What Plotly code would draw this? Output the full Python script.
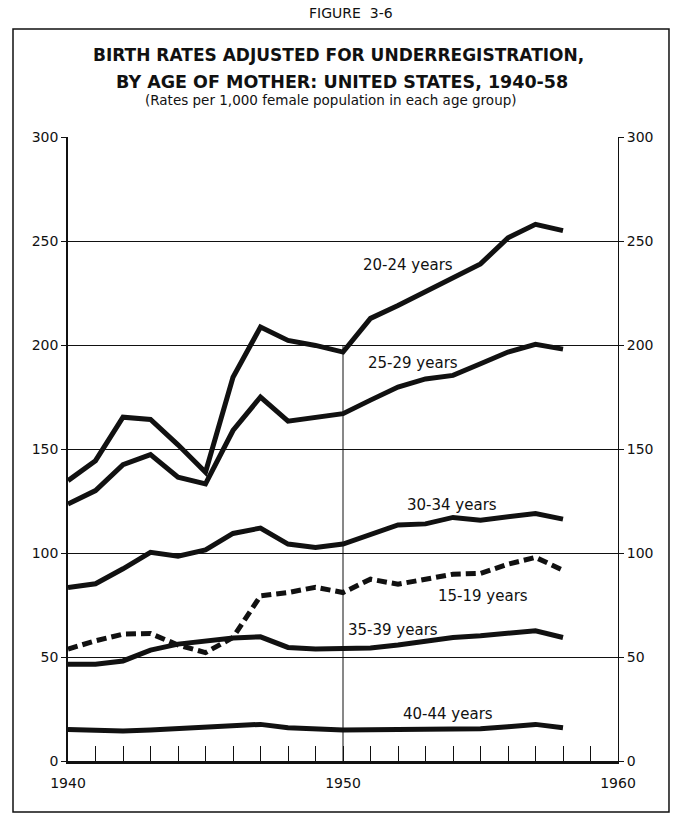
import plotly.graph_objects as go

years = list(range(1940, 1959))
rate_15_19 = [53.8, 57.8, 61.0, 61.3, 55.8, 52.1, 59.4, 79.4, 81.0, 83.5, 81.0, 87.4, 85.0, 87.4, 89.8, 90.2, 94.6, 97.9, 91.7]
rate_20_24 = [134.8, 144.4, 165.3, 164.2, 152.0, 138.8, 184.5, 208.6, 202.2, 199.8, 196.6, 212.8, 219.0, 225.5, 232.5, 239.0, 251.5, 258.0, 255.0]
rate_25_29 = [123.6, 130.0, 142.5, 147.3, 136.4, 133.2, 158.9, 175.0, 163.4, 165.0, 167.0, 173.5, 179.8, 183.7, 185.4, 191.0, 196.6, 200.3, 198.0]
rate_30_34 = [83.4, 85.2, 92.4, 100.3, 98.5, 101.5, 109.4, 112.0, 104.3, 102.7, 104.3, 109.1, 113.5, 114.0, 117.1, 115.8, 117.5, 119.0, 116.3]
rate_35_39 = [46.5, 46.5, 48.1, 53.3, 56.2, 57.8, 59.1, 59.7, 54.6, 53.8, 53.8, 54.3, 55.8, 57.8, 59.4, 60.2, 61.5, 62.6, 59.4]
rate_40_44 = [15.2, 14.9, 14.4, 14.9, 15.7, 16.4, 16.9, 17.6, 16.0, 15.2, 14.9, 15.0, 15.0, 15.2, 15.5, 15.5, 16.5, 17.6, 16.0]

series_names = ["15-19 years", "20-24 years", "25-29 years", "30-34 years", "35-39 years", "40-44 years"]
series_values = [rate_15_19, rate_20_24, rate_25_29, rate_30_34, rate_35_39, rate_40_44]
series_dash = ["10px,5px", "solid", "solid", "solid", "solid", "solid"]
label_x = [1955.1, 1952.35, 1952.55, 1953.95, 1951.8, 1953.8]
label_y = [79.4, 238.3, 191.5, 123.3, 63.1, 22.6]

y_ticks = [0, 50, 100, 150, 200, 250, 300]
x_ticks = [1940, 1950, 1960]

FONT = "DejaVu Sans"
INK = "#111111"

fig = go.Figure()
for name, vals, dash in zip(series_names, series_values, series_dash):
    fig.add_trace(go.Scatter(x=years, y=vals, mode="lines", name=name,
                             line=dict(color=INK, width=5, dash=dash),
                             showlegend=False))
# invisible trace on the right axis so it is drawn
fig.add_trace(go.Scatter(x=[1940], y=[0], yaxis="y2", mode="markers",
                         marker=dict(opacity=0), showlegend=False, hoverinfo="skip"))

for name, lx, ly in zip(series_names, label_x, label_y):
    fig.add_annotation(x=lx, y=ly, text=name, showarrow=False,
                       font=dict(family=FONT, size=15, color=INK))

# vertical 1950 rule
fig.add_shape(type="line", x0=1950, x1=1950, y0=0, y1=200, xref="x", yref="y",
              line=dict(color=INK, width=1))

# outer frame
fig.add_shape(type="rect", xref="paper", yref="paper",
              x0=-0.1, x1=1.0927, y0=-0.0817, y1=1.1731,
              line=dict(color=INK, width=1.5), layer="below")

def head(x, y, text, size):
    fig.add_annotation(xref="paper", yref="paper", x=x, y=y, text=text,
                       xanchor="center", yanchor="middle", showarrow=False,
                       font=dict(family=FONT, size=size, color=INK))

head(0.5145, 1.1987, "FIGURE  3-6", 14)
head(0.491, 1.1314, "<b>BIRTH RATES ADJUSTED FOR UNDERREGISTRATION,</b>", 17)
head(0.499, 1.0881, "<b>BY AGE OF MOTHER: UNITED STATES, 1940-58</b>", 17.5)
head(0.478, 1.0593, "(Rates per 1,000 female population in each age group)", 13.5)

fig.update_layout(
    width=676, height=814,
    margin=dict(l=68, r=58, t=137, b=53),
    paper_bgcolor="white", plot_bgcolor="white",
    font=dict(family=FONT, size=14, color=INK),
    xaxis=dict(range=[1940, 1960], tickvals=x_ticks, ticktext=[str(v) for v in x_ticks],
               showgrid=False, zeroline=False, showline=True, linecolor=INK, linewidth=2.5,
               ticks="inside", ticklen=15, tickcolor=INK, tickwidth=1,
               minor=dict(dtick=1, tick0=1940, ticks="inside", ticklen=15, tickcolor=INK, tickwidth=1),
               ticklabelstandoff=7, tickfont=dict(size=14, family=FONT), fixedrange=True),
    yaxis=dict(range=[0, 300], tickvals=y_ticks, showgrid=True, gridcolor=INK, gridwidth=1.3,
               zeroline=False, showline=True, linecolor=INK, linewidth=1.5,
               ticks="outside", ticklen=5, tickcolor=INK, tickwidth=1,
               tickfont=dict(size=14, family=FONT)),
    yaxis2=dict(range=[0, 300], tickvals=y_ticks, overlaying="y", side="right", matches="y",
                showgrid=False, zeroline=False, showline=True, linecolor=INK, linewidth=1,
                ticks="outside", ticklen=5, tickcolor=INK, tickwidth=1,
                tickfont=dict(size=14, family=FONT)),
)

fig.write_html("out.html", config={"displayModeBar": False},
               post_script="document.body.style.margin='0';")
